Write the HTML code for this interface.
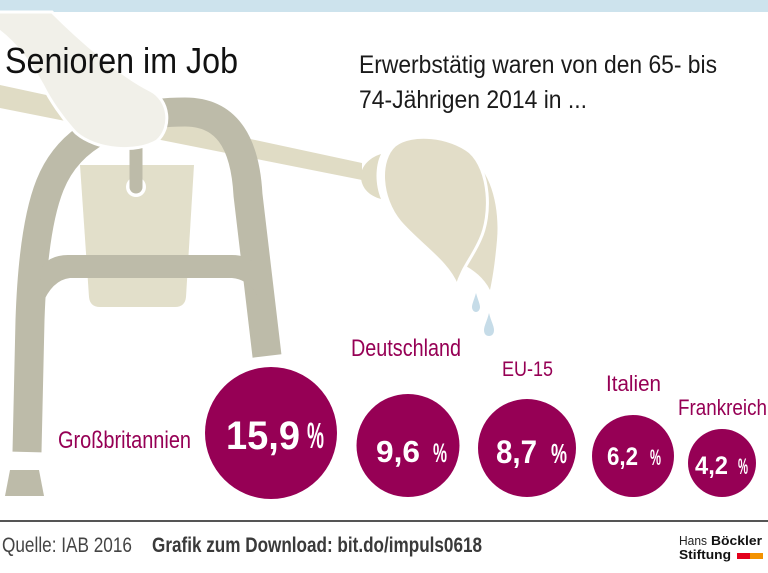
<!DOCTYPE html>
<html><head><meta charset="utf-8"><style>
html,body{margin:0;padding:0;background:#fff;}
svg{display:block;}
text{font-family:"Liberation Sans",sans-serif;}
</style></head><body>
<svg width="768" height="573" viewBox="0 0 768 573" xmlns="http://www.w3.org/2000/svg">
<rect x="0" y="0" width="768" height="573" fill="#fff"/>
<rect x="0" y="0" width="768" height="12" fill="#cde3ed"/>

<!-- pole -->
<polygon points="0,85 362,163 362,180 0,108" fill="#e0dcc5"/>
<!-- mop back -->
<path d="M466 154 C490 168 500 205 497 240 C495 262 493 276 490 290 C484 278 474 270 462 264 Z" fill="#e2ddc8"/>
<!-- mop front -->
<path d="M457 286 C448 262 420 245 400 222 C380 198 378 160 395 145 C412 132 450 136 470 152 C490 170 492 215 480 240 C472 258 462 268 457 286 Z" fill="#e2ddc8" stroke="#fff" stroke-width="3"/>
<!-- ferrule -->
<path d="M381 154 C368 158 360 168 361 178 C362 189 370 196 381 199 C375 185 375 166 381 154 Z" fill="#e0dcc5"/>
<!-- drops -->
<path d="M476 293 C478 300 480 304 480 307 C480 310 478 312 476 312 C474 312 472 310 472 307 C472 304 474 300 476 293 Z" fill="#c6dce8"/>
<path d="M489 313 C491 321 494 326 494 330 C494 334 492 336 489 336 C486 336 484 334 484 330 C484 326 487 321 489 313 Z" fill="#c6dce8"/>

<!-- bucket -->
<path d="M80 165 L194 165 L186 297 Q185 307 175 307 L100 307 Q90 307 89 297 Z" fill="#e2dfca"/>

<!-- walker arch -->
<path d="M27 452 L30 320 C32 260 38 215 50 185 C70 135 120 112 185 112 C225 112 245 140 248 195 L267 356" fill="none" stroke="#bdbba9" stroke-width="29"/>
<!-- crossbar -->
<path d="M40 270 Q48 255 68 255 L232 255 Q252 255 258 270 L260 302 Q252 280 232 278 L70 278 Q52 280 42 305 Z" fill="#bdbba9"/>
<!-- foot -->
<polygon points="10,470 39,470 44,496 5,496" fill="#bdbba9"/>

<!-- hook -->
<circle cx="136" cy="187" r="10" fill="#fff"/>
<line x1="136" y1="140" x2="136" y2="187" stroke="#bdbba9" stroke-width="13" stroke-linecap="round"/>

<!-- arm -->
<path d="M-5 12 L52 12 C80 40 120 75 150 90 C170 100 172 128 157 141 C137 153 97 151 76 133 C62 118 50 100 43 86 C30 62 15 42 -5 28 Z" fill="#f1f0e9" stroke="#fff" stroke-width="3"/>

<!-- titles -->
<text x="5" y="73" font-size="36" fill="#111" textLength="233" lengthAdjust="spacingAndGlyphs">Senioren im Job</text>
<text x="359" y="73" font-size="25" fill="#1a1a1a" textLength="358" lengthAdjust="spacingAndGlyphs">Erwerbstätig waren von den 65- bis</text>
<text x="359" y="108" font-size="25" fill="#1a1a1a" textLength="228" lengthAdjust="spacingAndGlyphs">74-Jährigen 2014 in ...</text>

<!-- circles -->
<g fill="#960055">
<circle cx="271" cy="433" r="66"/>
<circle cx="408" cy="445.5" r="51.5"/>
<circle cx="527" cy="448" r="49"/>
<circle cx="633" cy="456" r="41"/>
<circle cx="722" cy="463" r="34"/>
</g>
<g fill="#fff" font-weight="bold">
<text x="226" y="449" font-size="40" textLength="74" lengthAdjust="spacingAndGlyphs">15,9</text>
<text x="307" y="448" font-size="36" textLength="17" lengthAdjust="spacingAndGlyphs">%</text>
<text x="376" y="462" font-size="31" textLength="44" lengthAdjust="spacingAndGlyphs">9,6</text>
<text x="433" y="462" font-size="27" textLength="14" lengthAdjust="spacingAndGlyphs">%</text>
<text x="496" y="463" font-size="32" textLength="41" lengthAdjust="spacingAndGlyphs">8,7</text>
<text x="551" y="463" font-size="28" textLength="16" lengthAdjust="spacingAndGlyphs">%</text>
<text x="607" y="465" font-size="25" textLength="31" lengthAdjust="spacingAndGlyphs">6,2</text>
<text x="650" y="465" font-size="22" textLength="11" lengthAdjust="spacingAndGlyphs">%</text>
<text x="695" y="474" font-size="25" textLength="33" lengthAdjust="spacingAndGlyphs">4,2</text>
<text x="738" y="474" font-size="22" textLength="10" lengthAdjust="spacingAndGlyphs">%</text>
</g>

<!-- labels -->
<g fill="#960055">
<text x="58" y="448" font-size="24" textLength="133" lengthAdjust="spacingAndGlyphs">Großbritannien</text>
<text x="351" y="356" font-size="24" textLength="110" lengthAdjust="spacingAndGlyphs">Deutschland</text>
<text x="502" y="376" font-size="21" textLength="51" lengthAdjust="spacingAndGlyphs">EU-15</text>
<text x="606" y="391" font-size="22" textLength="55" lengthAdjust="spacingAndGlyphs">Italien</text>
<text x="678" y="415" font-size="22" textLength="89" lengthAdjust="spacingAndGlyphs">Frankreich</text>
</g>

<!-- footer -->
<line x1="0" y1="521" x2="768" y2="521" stroke="#555" stroke-width="2"/>
<text x="2" y="552" font-size="21" fill="#444" textLength="130" lengthAdjust="spacingAndGlyphs">Quelle: IAB 2016</text>
<text x="152" y="552" font-size="21" font-weight="bold" fill="#3a3a3a" textLength="330" lengthAdjust="spacingAndGlyphs">Grafik zum Download: bit.do/impuls0618</text>

<!-- logo -->
<text x="679" y="545" font-size="13" fill="#222" textLength="28" lengthAdjust="spacingAndGlyphs">Hans</text>
<text x="711" y="545" font-size="13" font-weight="bold" fill="#111" textLength="51" lengthAdjust="spacingAndGlyphs">Böckler</text>
<text x="679" y="559" font-size="13" font-weight="bold" fill="#111" textLength="52" lengthAdjust="spacingAndGlyphs">Stiftung</text>
<rect x="737" y="553" width="13" height="6" fill="#e3001b"/>
<rect x="750" y="553" width="13" height="6" fill="#f39200"/>
</svg>
</body></html>
